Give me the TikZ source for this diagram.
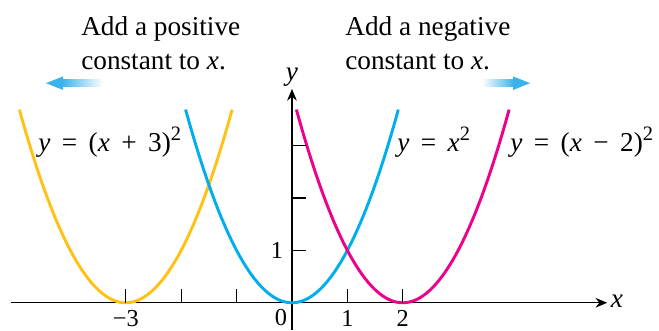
\documentclass[tikz,border=0pt]{standalone}
\usepackage{fontspec}
\setmainfont{Liberation Serif}
\usetikzlibrary{arrows.meta}
\definecolor{parabyellow}{RGB}{255,194,20}
\definecolor{parabblue}{RGB}{0,174,239}
\definecolor{parabpink}{RGB}{236,0,140}
\definecolor{shiftblue}{RGB}{60,178,236}
\newcommand{\vx}{\textit{x}}
\newcommand{\vy}{\textit{y}}
\newcommand{\sq}{\raisebox{0.4em}{\fontsize{10.5}{12}\selectfont 2}}
\newcommand{\gap}{\hspace{0.42em}}

\begin{document}
\begin{tikzpicture}[
  x=1cm, y=0.946cm,
  curve/.style={line width=1.5pt},
  axis/.style={line width=0.6pt, -{Stealth[length=6pt,width=5pt]}},
  tick/.style={line width=0.6pt},
  note/.style={align=left, anchor=north west, inner sep=0pt, font=\fontsize{14}{17.6}\selectfont},
  eqn/.style={anchor=base west, inner sep=0pt, font=\fontsize{14}{16}\selectfont},
  num/.style={inner sep=0pt, font=\fontsize{12.5}{15}\selectfont}
]
  \useasboundingbox (-5.27,-0.521) rectangle (6.625,5.777);

  % axes
  \coordinate (xstart) at (-5.07,0);
  \coordinate (xend) at (5.69,0);
  \coordinate (ystart) at (0,-0.521);
  \coordinate (yend) at (0,4.08);
  \draw[axis] (xstart) -- (xend);
  \draw[axis] (ystart) -- (yend);
  \node[num, anchor=west, font=\fontsize{14}{16}\selectfont] (xlabel) at (5.75,0.02) {\vx};
  \node[num, anchor=south, font=\fontsize{14}{16}\selectfont] (ylabel) at (0,4.12) {\vy};

  % the three parabolas
  \draw[curve, parabyellow] plot[domain=-4.92:-1.08, samples=60] (\x, {(\x+3)*(\x+3)});
  \draw[curve, parabblue] plot[domain=-1.92:1.92, samples=60] (\x, {\x*\x});
  \draw[curve, parabpink] plot[domain=0.08:3.92, samples=60] (\x, {(\x-2)*(\x-2)});

  % ticks
  \foreach \t in {-3,-2,-1,1,2}
    \draw[tick] (\t,0) -- (\t,0.27);
  \foreach \t in {1,2,3}
    \draw[tick] (0,\t) -- (0.25,\t);

  \node[num] (mthree) at (-3,-0.3) {−3};
  \node[num] (zero) at (-0.2,-0.29) {0};
  \node[num] (one) at (1,-0.3) {1};
  \node[num] (two) at (2,-0.3) {2};
  \node[num] (yone) at (-0.27,1) {1};

  % equations
  \node[eqn] (eqyellow) at (-4.585,2.895) {\vy\gap=\gap(\vx\gap+\gap3)\sq};
  \node[eqn] (eqblue) at (1.895,2.895) {\vy\gap=\gap\vx\sq};
  \node[eqn] (eqpink) at (3.935,2.895) {\vy\gap=\gap(\vx\gap−\gap2)\sq};

  % shift notes
  \node[note] (leftnote) at (-3.81,5.47) {Add a positive\\constant to \vx.};
  \node[note] (rightnote) at (0.957,5.47) {Add a negative\\constant to \vx.};

  % shift arrows
  \shade[left color=shiftblue, right color=white] (-4.16,4.126) rectangle (-3.41,4.254);
  \fill[shiftblue] (-4.44,4.19) -- (-4.13,4.32) -- (-4.13,4.06) -- cycle;
  \shade[left color=white, right color=shiftblue] (3.43,4.126) rectangle (4.0,4.254);
  \fill[shiftblue] (4.30,4.19) -- (3.99,4.32) -- (3.99,4.06) -- cycle;
\end{tikzpicture}
\end{document}
